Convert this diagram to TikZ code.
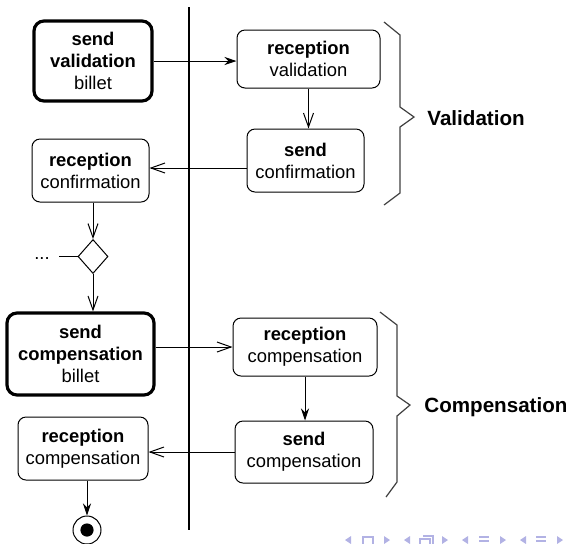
\documentclass[tikz,border=0pt]{standalone}
\usepackage{fontspec}
\setmainfont{Liberation Sans}
\usetikzlibrary{arrows.meta,positioning,shapes.geometric}
\definecolor{navblue}{RGB}{178,178,228}

\begin{document}
\begin{tikzpicture}[
  x=0.5pt, y=-0.5pt,
  act/.style={draw, rounded corners=4pt, align=center, line width=.5pt, inner sep=1pt,
              font=\fontsize{9.2}{11}\selectfont},
  sendact/.style={act, line width=1.6pt, rounded corners=5pt},
  arrow/.style={-{Stealth[length=6pt, width=4pt]}, line width=.5pt},
  oarrow/.style={-{Straight Barb[length=7pt, width=5pt]}, line width=.5pt},
  brace/.style={line width=.6pt, black!75},
  group/.style={anchor=base west, inner sep=0pt, font=\bfseries\fontsize{10.3}{12}\selectfont},
  nav/.style={fill=navblue, draw=none},
]
  \useasboundingbox (0,0) rectangle (566,543);

  % swimlane separator
  \coordinate (lanetop) at (189,7);
  \coordinate (lanebot) at (189,530);
  \draw[line width=1pt] (lanetop) -- (lanebot);

  % validation
  \node[sendact, minimum width=59pt, minimum height=40pt] (sendval) at (93,61)
    {\textbf{send}\\\textbf{validation}\\billet};
  \node[act, minimum width=71.5pt, minimum height=29pt] (recval) at (308.5,59)
    {\textbf{reception}\\validation};
  \node[act, minimum width=58.5pt, minimum height=31.5pt] (sendconf) at (305.5,160.5)
    {\textbf{send}\\confirmation};
  \node[act, minimum width=58.5pt, minimum height=31.5pt] (recconf) at (90.5,170.5)
    {\textbf{reception}\\confirmation};

  % decision
  \node[diamond, draw, line width=.5pt, inner sep=0pt, aspect=.88,
        minimum width=15pt, minimum height=17pt] (dec) at (93,256.5) {};
  \node[inner xsep=4.5pt, inner ysep=0pt, anchor=base, font=\fontsize{9.2}{11}\selectfont]
    (more) at (42,259) {...};

  % compensation
  \node[sendact, minimum width=73.5pt, minimum height=41pt] (sendcompb) at (80.5,354)
    {\textbf{send}\\\textbf{compensation}\\billet};
  \node[act, minimum width=72pt, minimum height=29pt] (reccompr) at (305,347)
    {\textbf{reception}\\compensation};
  \node[act, minimum width=69pt, minimum height=31pt] (sendcompr) at (304,452)
    {\textbf{send}\\compensation};
  \node[act, minimum width=65pt, minimum height=31.5pt] (reccompl) at (83,448.5)
    {\textbf{reception}\\compensation};

  % final state
  \node[circle, draw, line width=.5pt, minimum size=14pt, inner sep=0pt] (stop) at (87,530) {};
  \fill (stop) circle (3.3pt);

  % flows
  \draw[arrow] (sendval.east) -- (sendval.east -| recval.west);
  \draw[oarrow] (recval.south) -- (recval.south |- sendconf.north);
  \draw[oarrow] ([yshift=-3.75pt]sendconf.west) -- ([yshift=-3.75pt]sendconf.west -| recconf.east);
  \draw[oarrow] (dec.north |- recconf.south) -- (dec.north);
  \draw (more.east |- dec.west) -- (dec.west);
  \draw[oarrow] (dec.south) -- (dec.south |- sendcompb.north);
  \draw[oarrow] (reccompr.west -| sendcompb.east) -- (reccompr.west);
  \draw[arrow] (reccompr.south) -- (reccompr.south |- sendcompr.north);
  \draw[oarrow] (sendcompr.west) -- (sendcompr.west -| reccompl.east);
  \draw[arrow] (stop.north |- reccompl.south) -- (stop.north);

  % braces
  \draw[brace] (384,22) -- (400,35) -- (400,107) -- (414,117) -- (400,127) -- (400,193) -- (384,205);
  \node[group] (valid) at (427,125) {Validation};
  \draw[brace] (380,312) -- (397,325) -- (397,396) -- (410,405) -- (397,416) -- (397,482) -- (386,497);
  \node[group] (comp) at (424,412) {Compensation};

  % navigation symbols
  \foreach \x in {348,407,465,523}
    \fill[nav] (\x+3,536) -- (\x-3,540) -- (\x+3,544) -- cycle;
  \foreach \x in {387,445,503,560}
    \fill[nav] (\x-3,536) -- (\x+3,540) -- (\x-3,544) -- cycle;
  \draw[navblue, line width=.6pt] (363,537) rectangle (373,547);
  \draw[navblue, line width=.6pt] (420,539) rectangle (430,547);
  \draw[navblue, line width=.6pt] (423,536) -- (433,536) -- (433,544);
  \foreach \x in {484,541}
    \foreach \y in {537,541}
      \draw[navblue, line width=.8pt] (\x-5,\y) -- (\x+5,\y);
\end{tikzpicture}
\end{document}
